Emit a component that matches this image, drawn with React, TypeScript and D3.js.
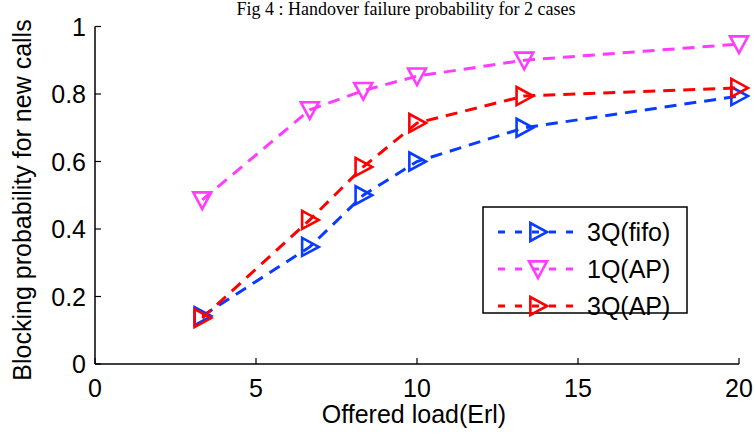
import React from "react";
import * as d3 from "d3";

const xValues = [3.33, 6.67, 8.33, 10, 13.33, 20];
const fifo3Q = [0.142, 0.347, 0.5, 0.6, 0.7, 0.794];
const ap1Q = [0.486, 0.753, 0.81, 0.853, 0.9, 0.948];
const ap3Q = [0.136, 0.427, 0.584, 0.714, 0.794, 0.818];
const xTicks = [0, 5, 10, 15, 20];
const yTicks = [0, 0.2, 0.4, 0.6, 0.8, 1];
const seriesNames = ["3Q(fifo)", "1Q(AP)", "3Q(AP)"];
const seriesColors = ["#0a3cff", "#ff3cff", "#ff0000"];
const seriesMarkers = ["right", "down", "right"];

const W = 755, H = 437;
const x = d3.scaleLinear().domain([0, 20]).range([95, 739]);
const y = d3.scaleLinear().domain([0, 1]).range([364, 26.5]);

function Marker({ cx, cy, kind, color }: { cx: number; cy: number; kind: string; color: string }) {
  const s = 9;
  let pts: [number, number][];
  if (kind === "right") pts = [[-s * 0.85, -s], [-s * 0.85, s], [s, 0]];
  else pts = [[-s, -s * 0.85], [s, -s * 0.85], [0, s]];
  return (
    <polygon
      points={pts.map(([a, b]) => `${cx + a},${cy + b}`).join(" ")}
      fill="none"
      stroke={color}
      strokeWidth={2.6}
    />
  );
}

export default function App() {
  const data = [fifo3Q, ap1Q, ap3Q];
  const line = d3.line<number>().x((_, i) => x(xValues[i])).y((d) => y(d));
  const font = "Arial, 'Liberation Sans', sans-serif";
  const fs = 25;
  const legX = 483, legY = 207, legW = 204, legH = 106;
  return (
    <svg width={W} height={H} style={{ position: "absolute", left: 0, top: 0 }}>
      <rect width={W} height={H} fill="#fff" />
      <text x={406} y={15} textAnchor="middle" fontFamily="'Liberation Serif', 'Times New Roman', serif" fontSize={18} fill="#000">
        Fig 4 : Handover failure probability for 2  cases
      </text>
      {/* axes */}
      <line x1={x(0)} x2={x(20)} y1={y(0)} y2={y(0)} stroke="#000" strokeWidth={1.5} />
      <line x1={x(0)} x2={x(0)} y1={y(0)} y2={y(1)} stroke="#000" strokeWidth={1.5} />
      {xTicks.map((t) => (
        <g key={"xt" + t}>
          <line x1={x(t)} x2={x(t)} y1={y(0)} y2={y(0) - 6} stroke="#000" strokeWidth={1.2} />
          <text x={x(t)} y={y(0) + 33} textAnchor="middle" fontFamily={font} fontSize={fs} fill="#000">{t}</text>
        </g>
      ))}
      {yTicks.map((t) => (
        <g key={"yt" + t}>
          <line x1={x(0)} x2={x(0) + 6} y1={y(t)} y2={y(t)} stroke="#000" strokeWidth={1.2} />
          <text x={x(0) - 9} y={y(t) + 9} textAnchor="end" fontFamily={font} fontSize={fs} fill="#000">{t}</text>
        </g>
      ))}
      <text x={414} y={423} textAnchor="middle" fontFamily={font} fontSize={fs} fill="#000">Offered load(Erl)</text>
      <text transform={`translate(31,200) rotate(-90)`} textAnchor="middle" fontFamily={font} fontSize={fs} fill="#000">
        Blocking probability for new calls
      </text>
      {/* series */}
      {data.map((vals, si) => (
        <g key={"s" + si}>
          <path d={line(vals) || ""} fill="none" stroke={seriesColors[si]} strokeWidth={3} strokeDasharray="12,8" />
          {vals.map((v, i) => (
            <Marker key={i} cx={x(xValues[i])} cy={y(v)} kind={seriesMarkers[si]} color={seriesColors[si]} />
          ))}
        </g>
      ))}
      {/* legend */}
      <rect x={legX} y={legY} width={legW} height={legH} fill="#fff" stroke="#000" strokeWidth={1.5} />
      {seriesNames.map((n, i) => {
        const ly = legY + 25 + i * 37;
        return (
          <g key={"l" + i}>
            <line x1={498} x2={578} y1={ly} y2={ly} stroke={seriesColors[i]} strokeWidth={3} strokeDasharray="7,10" />
            <Marker cx={538} cy={ly} kind={seriesMarkers[i]} color={seriesColors[i]} />
            <text x={587} y={ly + 9} fontFamily={font} fontSize={fs} fill="#000">{n}</text>
          </g>
        );
      })}
    </svg>
  );
}
